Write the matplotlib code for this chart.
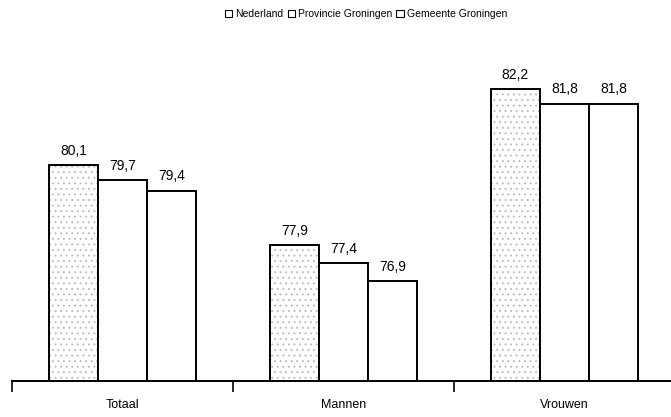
import matplotlib
matplotlib.use("Agg")
import matplotlib.pyplot as plt
import numpy as np
from matplotlib.patches import Patch

categories = ["Totaal", "Mannen", "Vrouwen"]
series_names = ["Nederland", "Provincie Groningen", "Gemeente Groningen"]
nederland = [80.1, 77.9, 82.2]
provincie = [79.7, 77.4, 81.8]
gemeente = [79.4, 76.9, 81.8]

plt.rcParams["font.family"] = ["Liberation Sans Narrow", "Liberation Sans", "DejaVu Sans"]
plt.rcParams["hatch.linewidth"] = 0.7

fig = plt.figure(figsize=(6.71, 4.17), dpi=100)
ax = fig.add_axes([12 / 671, 36 / 417, 663 / 671, 357 / 417])

x = np.arange(len(categories))
width = 0.222
dotted = [True, False, False]
for i, vals in enumerate([nederland, provincie, gemeente]):
    pos = x + (i - 1) * width
    if dotted[i]:
        # grey stipple first, black outline on top
        ax.bar(pos, vals, width, facecolor="white", edgecolor="#bdbdbd",
               hatch="...", linewidth=0)
        ax.bar(pos, vals, width, fill=False, edgecolor="black", linewidth=1.4)
    else:
        ax.bar(pos, vals, width, facecolor="white", edgecolor="black", linewidth=1.4)
    for p, v in zip(pos, vals):
        ax.text(p, v + 0.2, f"{v:.1f}".replace(".", ","), ha="center", va="bottom", fontsize=10)

ax.set_xlim(-0.5, 2.5)
ax.set_ylim(74.15, 84)
for s in ["left", "top", "right"]:
    ax.spines[s].set_visible(False)
ax.spines["bottom"].set_linewidth(1.4)
ax.set_yticks([])
ax.set_xticks(x)
ax.set_xticklabels(categories, fontsize=9)
ax.tick_params(axis="x", which="major", length=0, pad=13)
ax.set_xticks([-0.5, 0.5, 1.5, 2.5], minor=True)
ax.tick_params(axis="x", which="minor", length=8, width=1.2, direction="out")

handles = [Patch(facecolor="white", edgecolor="black", linewidth=0.8),
           Patch(facecolor="white", edgecolor="black", linewidth=0.8),
           Patch(facecolor="white", edgecolor="black", linewidth=0.8)]
fig.legend(handles, series_names, loc="center", bbox_to_anchor=(366 / 671, 1 - 14 / 417),
           ncol=3, frameon=False, fontsize=7.5, handlelength=0.7, handleheight=0.7,
           handletextpad=0.3, columnspacing=0.4)

fig.savefig("out.png", dpi=100)
